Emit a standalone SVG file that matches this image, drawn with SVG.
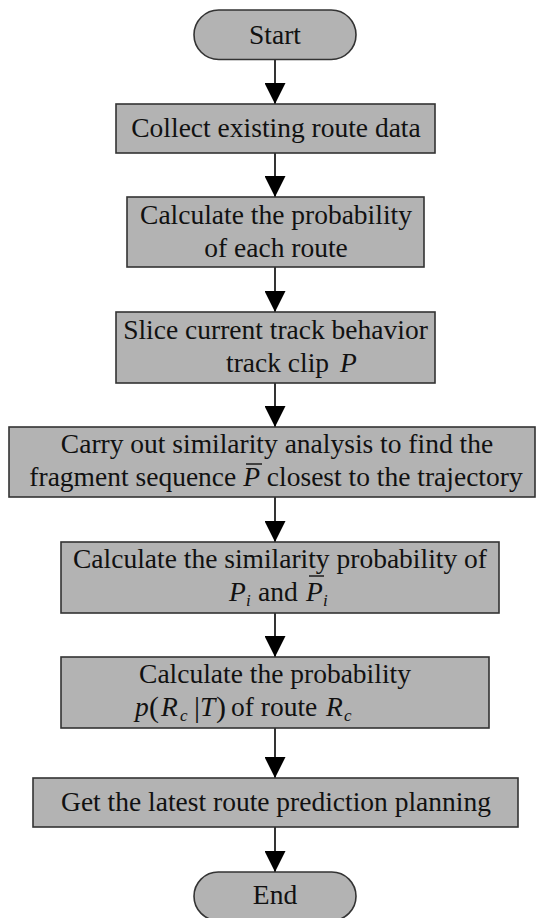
<svg xmlns="http://www.w3.org/2000/svg" width="536" height="918" viewBox="0 0 536 918">
<defs>
<style>
.box{fill:#b3b3b3;stroke:#333;stroke-width:1.6}
.t{font-family:"Liberation Serif","Times New Roman",serif;font-size:27.5px;fill:#111}
.c{text-anchor:middle}
.i{font-style:italic}
.sub{font-size:17px;font-style:italic}
.big{font-size:30px}
.edge{stroke:#000;stroke-width:1.6;fill:none;marker-end:url(#ah)}
.bar{stroke:#111;stroke-width:1.4}
</style>
<marker id="ah" viewBox="0 0 21 21" refX="21" refY="10.5" markerWidth="21" markerHeight="21" markerUnits="userSpaceOnUse" orient="auto">
<path d="M0,0 L21,10.5 L0,21 Z" fill="#000"/>
</marker>
</defs>
<g id="connectors">
<line class="edge" x1="275" y1="59.5" x2="275" y2="104"/>
<line class="edge" x1="275" y1="153" x2="275" y2="197"/>
<line class="edge" x1="275" y1="267" x2="275" y2="312"/>
<line class="edge" x1="275" y1="383" x2="275" y2="427"/>
<line class="edge" x1="275" y1="497" x2="275" y2="542"/>
<line class="edge" x1="275" y1="613" x2="275" y2="657"/>
<line class="edge" x1="275" y1="728" x2="275" y2="778"/>
<line class="edge" x1="275" y1="827" x2="275" y2="872"/>
</g>
<g id="start">
<rect class="box" x="194" y="10" width="162" height="49.5" rx="24.75"/>
<text class="t c" x="275" y="44">Start</text>
</g>
<g id="collect">
<rect class="box" x="116" y="104" width="319" height="49"/>
<text class="t c" x="276" y="137">Collect existing route data</text>
</g>
<g id="calc-prob">
<rect class="box" x="127" y="197" width="297" height="70"/>
<text class="t c" x="276" y="223.5">Calculate the probability</text>
<text class="t c" x="276" y="256.5">of each route</text>
</g>
<g id="slice">
<rect class="box" x="116" y="312" width="319" height="71"/>
<text class="t c" x="275.5" y="339">Slice current track behavior</text>
<text class="t" x="226" y="372">track clip <tspan class="i" dx="4">P</tspan></text>
</g>
<g id="similarity">
<rect class="box" x="9" y="427" width="526" height="70"/>
<text class="t c" x="277" y="452.5">Carry out similarity analysis to find the</text>
<text class="t c" x="276" y="486">fragment sequence <tspan class="i">P</tspan> closest to the trajectory</text>
<line class="bar" x1="246" y1="464" x2="262" y2="464"/>
</g>
<g id="sim-prob">
<rect class="box" x="61" y="542" width="438" height="71"/>
<text class="t c" x="280" y="568">Calculate the similarity probability of</text>
<text class="t"><tspan class="i" x="229" y="601">P</tspan><tspan class="sub" x="246" y="606">i</tspan><tspan x="258" y="601">and</tspan><tspan class="i" x="306" y="601">P</tspan><tspan class="sub" x="323" y="606">i</tspan></text>
<line class="bar" x1="309" y1="576" x2="324" y2="576"/>
</g>
<g id="route-prob">
<rect class="box" x="61" y="657" width="428" height="71"/>
<text class="t c" x="275" y="683">Calculate the probability</text>
<text class="t"><tspan class="i" x="135" y="716">p</tspan><tspan class="big" x="149" y="717">(</tspan><tspan class="i" x="161" y="716">R</tspan><tspan class="sub" x="180" y="721">c</tspan><tspan class="big" x="194" y="717">|</tspan><tspan class="i" x="200" y="716">T</tspan><tspan class="big" x="216" y="717">)</tspan><tspan x="231" y="716">of route</tspan><tspan class="i" x="326" y="716">R</tspan><tspan class="sub" x="344" y="721">c</tspan></text>
</g>
<g id="latest">
<rect class="box" x="33" y="778" width="485" height="49"/>
<text class="t c" x="276" y="811">Get the latest route prediction planning</text>
</g>
<g id="end">
<rect class="box" x="194" y="872" width="162" height="48.5" rx="24.25"/>
<text class="t c" x="275" y="904">End</text>
</g>
</svg>
